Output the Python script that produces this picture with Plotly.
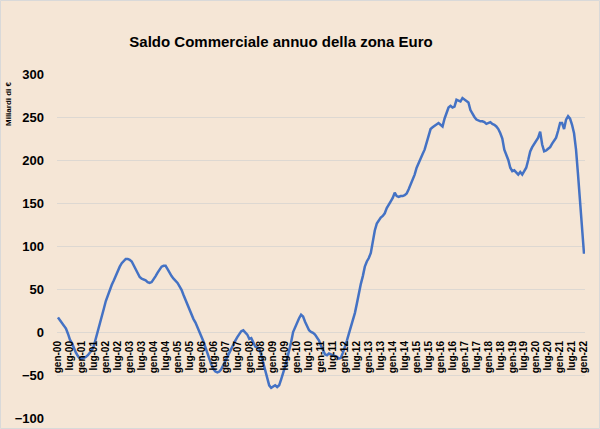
import plotly.graph_objects as go

mesi = ['gen', 'feb', 'mar', 'apr', 'mag', 'giu', 'lug', 'ago', 'set', 'ott', 'nov', 'dic']
anni = list(range(2000, 2023))

# Saldo commerciale annuo (miliardi di €), mensile gen-00 .. gen-22
saldo = [
    17, 14, 11, 8, 4, -2, -9, -13, -19, -24, -28, -31,            # 2000
    -31, -30, -29, -27, -24, -21, -16, -8, 0, 10, 18, 27,          # 2001
    36, 43, 49, 55, 60, 66, 71, 76, 80, 83, 85, 85,                # 2002
    84, 82, 77, 72, 69, 64, 62, 61, 60, 58, 57, 58,                # 2003
    61, 65, 69, 73, 76, 77, 77, 73, 68, 65, 62, 60,                # 2004
    57, 53, 49, 43, 37, 32, 25, 19, 15, 11, 6, 1,                  # 2005
    -5, -11, -18, -25, -31, -38, -43, -46, -47, -46, -43, -38,     # 2006
    -34, -29, -24, -20, -15, -10, -6, -2, 1, 2, 0, -3,             # 2007
    -8, -7, -12, -17, -18, -19, -27, -36, -44, -51, -62, -65,      # 2008
    -63, -62, -64, -62, -55, -48, -40, -31, -22, -12, 0, 6,        # 2009
    12, 16, 20, 18, 12, 6, 2, 0, -1, -3, -6, -10,                  # 2010
    -16, -21, -26, -27, -25, -26, -27, -28, -29, -31, -30, -24,    # 2011
    -18, -10, -2, 6, 12, 22, 33, 46, 56, 65, 76, 82,               # 2012
    86, 92, 106, 118, 126, 130, 133, 135, 138, 144, 149, 152,      # 2013
    156, 162, 158, 157, 158, 158, 159, 161, 166, 172, 176, 183,    # 2014
    191, 197, 203, 207, 212, 220, 231, 236, 238, 240, 241, 243,    # 2015
    241, 239, 248, 256, 261, 263, 261, 262, 270, 269, 268, 272,    # 2016
    270, 268, 267, 258, 253, 250, 247, 246, 245, 245, 244, 242,    # 2017
    243, 244, 242, 241, 239, 236, 231, 225, 212, 206, 200, 191,    # 2018
    187, 188, 186, 183, 186, 183, 187, 191, 200, 210, 215, 219,    # 2019
    222, 226, 233, 218, 210, 211, 213, 215, 219, 222, 226, 234,    # 2020
    243, 243, 236, 247, 251, 248, 241, 231, 212, 183, 153, 126,    # 2021
    91,                                                            # 2022
]

categorie = [f"{m}-{str(a)[2:]}" for a in anni for m in mesi][:len(saldo)]
etichette = categorie[::6]

W, H = 600, 429
ml, mr, mt, mb = 57, 15, 74, 11
bg = '#F5E6D6'

fig = go.Figure()
fig.add_trace(go.Scatter(
    x=categorie, y=saldo, mode='lines',
    line=dict(color='#4472C4', width=2.5),
    showlegend=False, hoverinfo='x+y'
))

pw = W - ml - mr
ph = H - mt - mb

fig.update_layout(
    width=W, height=H,
    margin=dict(l=ml, r=mr, t=mt, b=mb, autoexpand=False),
    paper_bgcolor=bg, plot_bgcolor=bg,
    title=dict(
        text='<b>Saldo Commerciale annuo della zona Euro</b>',
        x=281 / W, xref='container', xanchor='center',
        y=1 - 42 / H, yref='container', yanchor='middle',
        font=dict(family='Liberation Sans', size=15, color='#000000'),
    ),
    xaxis=dict(
        type='category', automargin=False,
        range=[-0.5, len(saldo) - 0.5],
        tickmode='array', tickvals=etichette, ticktext=etichette,
        tickangle=-90,
        tickfont=dict(family='Liberation Sans', size=10, color='#000000', weight='bold'),
        showgrid=False, showline=False, zeroline=False,
        ticks='', ticklabelstandoff=6,
        anchor='free', position=0.25,
    ),
    yaxis=dict(
        automargin=False,
        range=[-100, 300], dtick=50, tick0=0,
        tickfont=dict(family='Liberation Sans', size=13, color='#000000', weight='bold'),
        showgrid=True, gridcolor='#DDD8D2', gridwidth=1,
        zeroline=False, showline=False, ticks='', ticklabelstandoff=12,
    ),
    annotations=[dict(
        text='<b>Miliardi di €</b>', textangle=-90,
        xref='paper', yref='paper',
        x=-(ml - 8) / pw, y=1 - (104 - mt) / ph,
        xanchor='center', yanchor='middle', showarrow=False,
        font=dict(family='Liberation Sans', size=8, color='#000000'),
    )],
    shapes=[dict(
        type='rect', xref='paper', yref='paper',
        x0=-(ml - 0.5) / pw, x1=1 + (mr - 0.5) / pw,
        y0=-(mb - 0.5) / ph, y1=1 + (mt - 0.5) / ph,
        line=dict(color='#D9D9D9', width=1), fillcolor='rgba(0,0,0,0)', layer='below',
    )],
)

fig.write_html('out.html')
